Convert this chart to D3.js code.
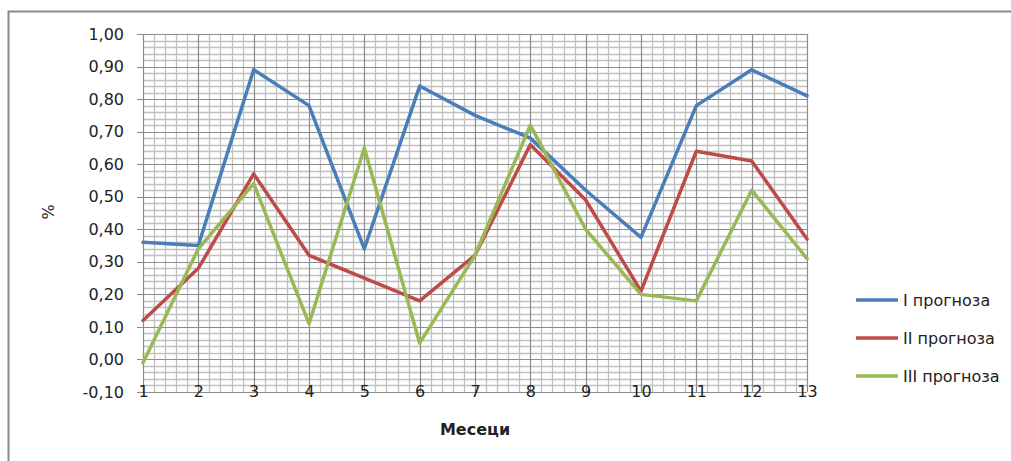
<!DOCTYPE html>
<html>
<head>
<meta charset="utf-8">
<script src="https://cdn.jsdelivr.net/npm/d3@7"></script>
<style>
  html, body { margin: 0; padding: 0; background: #fff; }
  svg { display: block; }
  text { font-family: "DejaVu Sans", "Open Sans", sans-serif; fill: #222; }
</style>
</head>
<body>
<svg id="chart" width="1011" height="461"></svg>
<script>
// Months on the x axis
const months = [1, 2, 3, 4, 5, 6, 7, 8, 9, 10, 11, 12, 13];
// Forecast series (share, %)
const seriesNames = ["I прогноза", "II прогноза", "III прогноза"];
const forecastI   = [0.36, 0.35, 0.89, 0.78, 0.34, 0.84, 0.75, 0.68, 0.52, 0.375, 0.78, 0.89, 0.81];
const forecastII  = [0.12, 0.28, 0.57, 0.32, 0.25, 0.18, 0.32, 0.66, 0.49, 0.21, 0.64, 0.61, 0.37];
const forecastIII = [-0.01, 0.34, 0.54, 0.11, 0.65, 0.05, 0.32, 0.72, 0.40, 0.20, 0.18, 0.52, 0.31];
const yTicks = [-0.10, 0, 0.10, 0.20, 0.30, 0.40, 0.50, 0.60, 0.70, 0.80, 0.90, 1.00];
const seriesColors = ["#4a7ebb", "#be4b48", "#98b954"];

const svg = d3.select("#chart");

// Outer chart frame
svg.append("rect")
  .attr("x", 8.5).attr("y", 11.5)
  .attr("width", 1100).attr("height", 600)
  .attr("fill", "none").attr("stroke", "#8a8a8a").attr("stroke-width", 2);

const plot = { left: 143, right: 807, top: 34, bottom: 392 };

const x = d3.scaleLinear().domain([1, 13]).range([plot.left, plot.right]);
const y = d3.scaleLinear().domain([-0.10, 1.00]).range([plot.bottom, plot.top]);

const g = svg.append("g");

// Minor grid (fifths of each unit)
const minorX = d3.range(1, 13.0001, 0.2).filter(v => Math.abs(v - Math.round(v)) > 1e-6);
const minorY = d3.range(-0.10, 1.0001, 0.02).filter(v => Math.abs(v * 10 - Math.round(v * 10)) > 1e-6);

g.selectAll("line.minor-x").data(minorX).join("line")
  .attr("x1", d => Math.round(x(d)) + 0.5).attr("x2", d => Math.round(x(d)) + 0.5)
  .attr("y1", plot.top).attr("y2", plot.bottom)
  .attr("stroke", "#c0c0c0").attr("stroke-width", 1.3);
g.selectAll("line.minor-y").data(minorY).join("line")
  .attr("y1", d => Math.round(y(d)) + 0.5).attr("y2", d => Math.round(y(d)) + 0.5)
  .attr("x1", plot.left).attr("x2", plot.right)
  .attr("stroke", "#c0c0c0").attr("stroke-width", 1.3);

// Major grid
g.selectAll("line.major-x").data(months).join("line")
  .attr("x1", d => Math.round(x(d)) + 0.5).attr("x2", d => Math.round(x(d)) + 0.5)
  .attr("y1", plot.top).attr("y2", plot.bottom)
  .attr("stroke", "#8c8c8c").attr("stroke-width", 1.2);
g.selectAll("line.major-y").data(yTicks).join("line")
  .attr("y1", d => Math.round(y(d)) + 0.5).attr("y2", d => Math.round(y(d)) + 0.5)
  .attr("x1", plot.left - 6).attr("x2", plot.right)
  .attr("stroke", "#8c8c8c").attr("stroke-width", 1.2);

// Y axis labels
const fmt = v => d3.format(".2f")(v).replace(".", ",").replace("−", "-");
const yAxis = d3.axisLeft(y).tickValues(yTicks).tickFormat(fmt).tickSize(0).tickPadding(19);
svg.append("g").attr("transform", `translate(${plot.left},0)`).call(yAxis)
  .call(a => a.select(".domain").remove())
  .call(a => a.selectAll("text")
    .style("font-family", "DejaVu Sans, sans-serif")
    .style("font-size", "16px").attr("fill", "#222"));

// X axis labels
const xAxis = d3.axisBottom(x).tickValues(months).tickFormat(d3.format("d")).tickSize(0).tickPadding(-6);
svg.append("g").attr("transform", `translate(0,${plot.bottom})`).call(xAxis)
  .call(a => a.select(".domain").remove())
  .call(a => a.selectAll("text")
    .style("font-family", "DejaVu Sans, sans-serif")
    .style("font-size", "16px").attr("fill", "#222"));

// Series lines
const allSeries = [forecastI, forecastII, forecastIII];
const line = d3.line().x((d, i) => x(months[i])).y(d => y(d));
allSeries.forEach((vals, k) => {
  svg.append("path").datum(vals)
    .attr("d", line)
    .attr("fill", "none")
    .attr("stroke", seriesColors[k])
    .attr("stroke-width", 3.5)
    .attr("stroke-linejoin", "round")
    .attr("stroke-linecap", "round");
});

// Axis titles
svg.append("text")
  .attr("x", 475).attr("y", 435)
  .attr("text-anchor", "middle")
  .style("font-size", "16px").style("font-weight", "bold")
  .text("Месеци");

svg.append("text")
  .attr("transform", "translate(54,212) rotate(-90)")
  .attr("text-anchor", "middle")
  .style("font-size", "16px")
  .text("%");

// Legend
const legend = svg.append("g");
seriesNames.forEach((name, k) => {
  const ly = 300 + k * 38;
  legend.append("line")
    .attr("x1", 856).attr("x2", 898).attr("y1", ly).attr("y2", ly)
    .attr("stroke", seriesColors[k]).attr("stroke-width", 3.5);
  legend.append("text")
    .attr("x", 903).attr("y", ly + 6)
    .style("font-size", "16px")
    .text(name);
});
</script>
</body>
</html>
